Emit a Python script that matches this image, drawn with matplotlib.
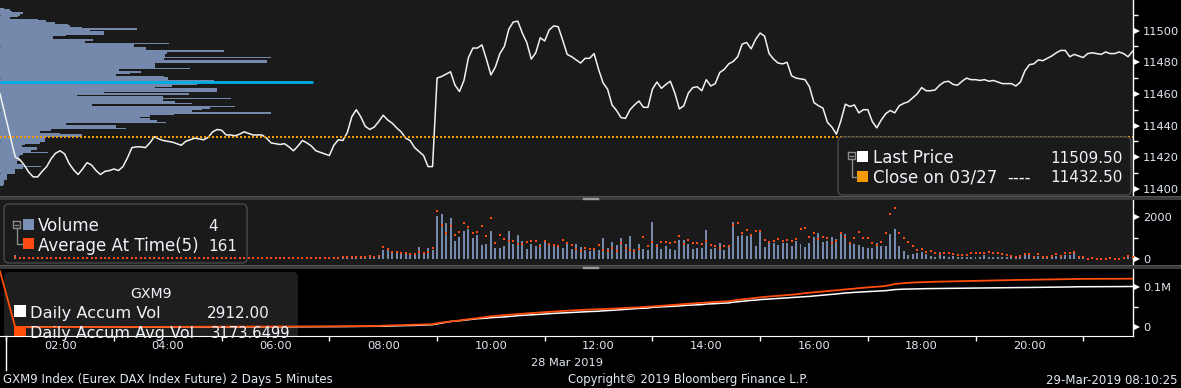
import numpy as np
import pandas as pd
import matplotlib
matplotlib.use("Agg")
import matplotlib.pyplot as plt
from matplotlib.patches import FancyBboxPatch, Rectangle
from matplotlib.lines import Line2D
from matplotlib.transforms import IdentityTransform, offset_copy

W, H = 1181, 388

# ---------------- data ----------------
session_open = '2019-03-28 01:10'      # first 5-minute bar
prev_time = '2019-03-28 00:53'         # line coming in from 27 Mar (left edge)
view_end = '2019-03-28 21:55:30'
prev_price = 11460.0
prev_accum_avg = 140000
close_0327 = 11432.5
poc_price = 11467.5
poc_len = 313

price = [
    11420, 11418.5, 11415, 11410.5, 11407.5, 11407.5, 11411, 11414, 11419, 11422.5,
    11424, 11422, 11416, 11412, 11409, 11412.5, 11416.5, 11415, 11411.5, 11409,
    11411, 11411.5, 11412.5, 11411.5, 11414, 11419.5, 11426, 11426.5, 11426.5, 11426,
    11429, 11433, 11431.5, 11430.5, 11430, 11429.5, 11428.5, 11427.5, 11430, 11431,
    11432, 11431.5, 11431, 11432.5, 11436, 11437.5, 11437, 11434, 11434, 11433.5,
    11434.5, 11436, 11435, 11434, 11434, 11434, 11432, 11429, 11428.5, 11428,
    11428.5, 11426.5, 11424, 11427, 11430.5, 11429, 11427, 11424, 11423, 11422,
    11421, 11427.5, 11431, 11430.5, 11435.5, 11445.5, 11450, 11445.5, 11439.5, 11437.5,
    11439, 11442.5, 11446.5, 11443.5, 11441.5, 11438.5, 11436, 11432, 11430.5, 11426,
    11423.5, 11421, 11414, 11414, 11470, 11471, 11472.5, 11474, 11465.5, 11461.5,
    11468.5, 11483, 11489, 11489, 11491, 11482, 11472, 11477, 11485.5, 11490,
    11501, 11505.5, 11506, 11498.5, 11492.5, 11482, 11486, 11495.5, 11493.5, 11500.5,
    11503, 11502.5, 11494, 11485, 11483.5, 11481.5, 11479.5, 11482.5, 11482.5, 11485.5,
    11475.5, 11467, 11463, 11453, 11449.5, 11445, 11444.5, 11450, 11453, 11455.5,
    11451.5, 11451.5, 11463, 11467.5, 11463.5, 11466, 11468, 11460.5, 11450.5, 11452.5,
    11460.5, 11464, 11464.5, 11462, 11469, 11465, 11466.5, 11473.5, 11475.5, 11479,
    11480.5, 11483.5, 11491.5, 11492.5, 11488.5, 11494.5, 11498.5, 11496.5, 11485.5, 11482,
    11479.5, 11479, 11480, 11471.5, 11470, 11469.5, 11469, 11464.5, 11454.5, 11452.5,
    11451, 11442, 11439, 11434.5, 11443, 11453.5, 11452, 11453, 11448, 11450,
    11450, 11442.5, 11438.5, 11443.5, 11447.5, 11449.5, 11448, 11452.5, 11454, 11455,
    11457.5, 11460, 11464, 11462, 11462, 11462.5, 11465.5, 11467.5, 11468, 11466,
    11465.5, 11468, 11470, 11469, 11469, 11468.5, 11469, 11468, 11468.5, 11467.5,
    11466.5, 11466.5, 11466.5, 11465, 11467.5, 11474.5, 11478.5, 11479, 11481.5, 11481,
    11482.5, 11484, 11486, 11487.5, 11487.5, 11483.5, 11485, 11484, 11483, 11485.5,
    11486, 11485.5, 11485, 11486.5, 11485.5, 11485.5, 11486.5, 11485.5, 11483.5, 11487,
]

volume = [
    190, 40, 25, 30, 15, 20, 15, 25, 10, 20,
    15, 10, 20, 15, 10, 25, 10, 15, 20, 10,
    15, 10, 20, 30, 15, 40, 20, 10, 15, 10,
    20, 15, 10, 15, 20, 10, 15, 10, 20, 15,
    10, 15, 20, 10, 15, 10, 25, 15, 10, 20,
    15, 20, 10, 15, 10, 20, 15, 30, 20, 15,
    25, 20, 35, 20, 30, 25, 40, 30, 80, 60,
    30, 45, 40, 90, 50, 40, 60, 45, 70, 100,
    80, 80, 432, 480, 272, 320, 224, 272, 224, 240,
    560, 272, 512, 432, 2080, 2160, 1744, 1968, 880, 1072,
    1344, 1440, 1024, 1152, 672, 720, 1344, 528, 528, 624,
    1344, 720, 1152, 864, 480, 720, 640, 720, 864, 784,
    704, 592, 528, 784, 480, 720, 592, 432, 384, 432,
    432, 1008, 528, 816, 672, 1008, 720, 1104, 480, 720,
    480, 432, 1776, 720, 480, 624, 480, 432, 912, 912,
    720, 480, 528, 528, 1392, 480, 528, 768, 432, 624,
    1776, 1104, 1152, 1104, 1200, 624, 1344, 576, 816, 784,
    672, 784, 784, 624, 880, 720, 576, 784, 1072, 1264,
    832, 880, 1072, 976, 1264, 1200, 784, 720, 672, 576,
    528, 528, 784, 624, 624, 1200, 1456, 624, 400, 192,
    240, 304, 352, 240, 144, 96, 352, 144, 96, 144,
    96, 96, 96, 112, 112, 112, 176, 112, 112, 112,
    112, 112, 80, 80, 144, 208, 176, 80, 144, 80,
    112, 176, 144, 112, 176, 176, 336, 144, 80, 32,
    80, 32, 32, 32, 64, 64, 32, 32, 112, 80,
]

avg_at_time = [
    80, 50, 40, 35, 35, 30, 30, 30, 35, 30,
    30, 25, 30, 25, 25, 30, 25, 25, 30, 25,
    25, 30, 25, 30, 25, 35, 30, 25, 25, 30,
    25, 25, 30, 25, 25, 30, 25, 25, 30, 25,
    25, 30, 25, 25, 30, 25, 25, 30, 25, 30,
    25, 30, 35, 30, 30, 35, 30, 35, 40, 35,
    40, 45, 40, 45, 50, 45, 55, 50, 60, 65,
    60, 70, 65, 75, 80, 85, 90, 100, 110, 125,
    112, 144, 592, 496, 336, 336, 304, 304, 240, 240,
    352, 304, 352, 528, 2304, 1648, 1264, 1584, 1168, 1296,
    1728, 1552, 1264, 1296, 1600, 1120, 1968, 784, 1168, 976,
    880, 880, 736, 736, 832, 880, 880, 640, 880, 736,
    688, 640, 928, 784, 688, 496, 400, 528, 480, 480,
    688, 432, 400, 528, 400, 784, 528, 432, 400, 496,
    1072, 624, 816, 624, 816, 816, 784, 816, 1120, 720,
    928, 784, 784, 736, 880, 688, 624, 544, 624, 624,
    1648, 1744, 1264, 1408, 1168, 1360, 1360, 928, 816, 880,
    976, 880, 928, 880, 976, 1456, 1504, 1072, 1264, 976,
    1072, 1024, 784, 880, 1264, 1072, 784, 1024, 1312, 1024,
    1024, 784, 688, 832, 1264, 2176, 2464, 1264, 1024, 832,
    640, 448, 496, 352, 400, 304, 256, 304, 304, 256,
    208, 208, 208, 272, 272, 272, 272, 320, 272, 272,
    224, 208, 160, 112, 160, 224, 224, 112, 224, 112,
    112, 160, 224, 160, 272, 272, 320, 112, 112, 16,
    64, 16, 16, 16, 64, 16, 16, 64, 160, 80,
]

# volume-at-price profile, from 11514 down, one row per index point
profile_vol = [
    4, 10, 12, 23, 20, 18, 10, 38, 46, 55,
    68, 70, 82, 137, 90, 104, 104, 66, 53, 53,
    93, 85, 169, 134, 134, 146, 146, 224, 167, 165,
    165, 271, 164, 267, 267, 155, 155, 155, 190, 119,
    141, 130, 116, 164, 168, 168, 214, 200, 197, 172,
    155, 217, 217, 104, 189, 77, 163, 231, 163, 175,
    192, 92, 235, 210, 202, 192, 271, 174, 150, 140,
    150, 157, 166, 66, 116, 116, 126, 51, 40, 60,
    82, 82, 45, 45, 45, 40, 25, 22, 37, 37,
    31, 48, 23, 20, 19, 18, 20, 17, 17, 23,
    41, 23, 15, 15, 15, 7, 7, 7, 7, 4,
    4, 4, 3,
]
profile_levels = np.arange(11514, 11514 - len(profile_vol), -1)

# ---------------- styling ----------------
BG = '#1a1a1a'
TXT = '#eef2f8'
TICK_TXT = '#e2e8f2'
BLUE = '#7589ad'
RED = '#ff4b12'
ORANGE = '#f59a00'
CYAN = '#00aee6'

times = pd.date_range(session_open, periods=len(price), freq='5min')
day0 = times[0].normalize()
hrs = ((times - day0) / pd.Timedelta(hours=1)).to_numpy()
prev_h = (pd.Timestamp(prev_time) - day0) / pd.Timedelta(hours=1)
end_h = (pd.Timestamp(view_end) - day0) / pd.Timedelta(hours=1)

fig = plt.figure(figsize=(W / 100, H / 100), dpi=100, facecolor='black')


def rect(top, bottom):
    return [0, 1 - bottom / H, 1133 / W, (bottom - top) / H]


def right_axis(ax, majors, labels, minors):
    ax.yaxis.tick_right()
    ax.set_yticks(majors)
    ax.set_yticklabels(labels)
    ax.set_yticks(minors, minor=True)
    ax.tick_params(axis='y', which='major', length=0, pad=7.2, labelsize=8.2,
                   labelcolor=TICK_TXT)
    ax.tick_params(axis='y', which='minor', length=3.5, width=1, color='white')
    tr = offset_copy(ax.get_yaxis_transform(), fig=fig, x=4, y=0, units='dots')
    ax.plot([1.0] * len(majors), majors, '>', ms=5, color='white', mew=0,
            transform=tr, clip_on=False)
    for s in ['top', 'left', 'bottom']:
        ax.spines[s].set_visible(False)
    ax.spines['right'].set_color('white')
    ax.spines['right'].set_linewidth(1)


# main price panel (profile underneath, price on top)
ax_prof = fig.add_axes(rect(0, 196))
ax_p = fig.add_axes(rect(0, 196), sharey=ax_prof)

ax_prof.set_facecolor(BG)
ax_prof.barh(profile_levels, profile_vol, height=1.0, color=BLUE, lw=0)
ax_prof.hlines(poc_price, 0, poc_len, color=CYAN, lw=2)
ax_prof.set_xlim(0, 1133)
for s in ax_prof.spines.values():
    s.set_visible(False)
ax_prof.tick_params(left=False, labelleft=False, bottom=False, labelbottom=False)

ax_p.patch.set_visible(False)
ax_p.plot(np.r_[prev_h, hrs], np.r_[prev_price, price], color='#f2f2f2', lw=1.1)
ax_p.axhline(close_0327, color=ORANGE, lw=1.44, ls=(0, (1, 1)))
right_axis(ax_p, range(11400, 11501, 20), [str(v) for v in range(11400, 11501, 20)],
           range(11410, 11520, 20))
ax_p.tick_params(axis='x', bottom=False, labelbottom=False)
ax_p.set_xlim(prev_h, end_h)
ax_p.set_ylim(11395.4, 11519.4)

# volume panel
ax_v = fig.add_axes(rect(200, 265))
ax_v.set_facecolor(BG)
ax_v.bar(hrs, volume, width=0.037, color=BLUE, lw=0, zorder=2)
ax_v.plot(hrs, avg_at_time, 's', ms=1.6, mew=0, color=RED, zorder=3)
right_axis(ax_v, [0, 2000], ['0', '2000'], [1000])
ax_v.tick_params(axis='x', bottom=False, labelbottom=False)
ax_v.set_xlim(prev_h, end_h)
ax_v.set_ylim(-288, 2830)

# accumulated volume panel
ax_a = fig.add_axes(rect(269, 336))
ax_a.set_facecolor('black')
ax_a.plot(hrs, np.cumsum(volume), color='white', lw=1.1, zorder=3)
ax_a.plot(np.r_[prev_h, hrs], np.r_[prev_accum_avg, np.cumsum(avg_at_time)],
          color='#ff4d0a', lw=1.3, zorder=4)
right_axis(ax_a, [0, 100000], ['0', '0.1M'], [50000])
ax_a.spines['bottom'].set_visible(True)
ax_a.spines['bottom'].set_color('white')
ax_a.set_xticks(list(range(2, 21, 2)))
ax_a.set_xticklabels([f'{h:02d}:00' for h in range(2, 21, 2)])
ax_a.set_xticks(list(range(1, 22, 2)), minor=True)
ax_a.tick_params(axis='x', which='major', length=0, pad=3.5, labelsize=8.2,
                 labelcolor=TICK_TXT)
ax_a.tick_params(axis='x', which='minor', length=3.5, width=1, color='white')
ax_a.plot([1.0, 1.0], [0, -0.5], transform=ax_a.get_xaxis_transform(),
          color='white', lw=1, clip_on=False)
ax_a.set_xlim(prev_h, end_h)
ax_a.set_ylim(-21800, 145800)


# ---------------- chrome: separators, legends, footer ----------------
def px_rect(x0, y0, x1, y1, fc, z=10):
    fig.add_artist(Rectangle((x0, H - y1), x1 - x0, y1 - y0, fc=fc, ec='none',
                             transform=IdentityTransform(), zorder=z))


def px_line(xs, ys, color, lw=1, z=12):
    fig.add_artist(Line2D(xs, [H - y for y in ys], color=color, lw=lw,
                          transform=IdentityTransform(), zorder=z))


for top in (196, 265):
    px_rect(0, top, W, top + 4, '#3a3a3a')
    px_rect(0, top, W, top + 1, '#555555')
    px_line([583, 598], [top + 1.5, top + 1.5], '#9a9a9a')
    px_line([583, 598], [top + 3, top + 3], '#9a9a9a')


def box(x0, y0, x1, y1, fc, ec, target=None, z=10):
    p = FancyBboxPatch((x0, H - y1), x1 - x0, y1 - y0,
                       boxstyle='round,pad=0,rounding_size=5', fc=fc, ec=ec, lw=1,
                       transform=IdentityTransform(), zorder=z)
    if target is None:
        fig.add_artist(p)
    else:
        target.add_patch(p)


def ftext(x, y, s, size=12, ha='left', color=TXT):
    fig.text(x / W, 1 - y / H, s, fontsize=size, ha=ha, va='baseline',
             color=color, zorder=20)


def tree_icon(x, y_top, y_row2, x_to):
    px_rect(x, y_top, x + 7, y_top + 7, '#1a1a1a', z=15)
    px_line([x, x + 7, x + 7, x, x], [y_top, y_top, y_top + 7, y_top + 7, y_top],
            '#8a8a8a', z=16)
    px_line([x + 2, x + 5], [y_top + 3.5, y_top + 3.5], '#8a8a8a', z=16)
    px_line([x + 3.5, x + 3.5, x_to], [y_top + 7, y_row2, y_row2], '#8a8a8a', z=16)


# price legend
box(838, 137, 1131, 195, BG, '#4a4a4a')
tree_icon(848, 152, 177, 857)
px_rect(857, 151, 868, 162, 'white', z=15)
px_rect(857, 171, 868, 182, ORANGE, z=15)
ftext(873, 162.7, 'Last Price')
ftext(1123, 162.7, '11509.50', size=11, ha='right')
ftext(873, 182.5, 'Close on 03/27')
ftext(1007, 182.5, '----', size=12)
ftext(1123, 182.5, '11432.50', size=11, ha='right')

# volume legend (frame only, marks show through)
box(4, 204, 247, 263, BG, '#4a4a4a', target=ax_v, z=1)
tree_icon(13, 221, 244, 23)
px_rect(23, 219, 34, 230, '#7a8fb5', z=15)
px_rect(23, 238, 34, 249, RED, z=15)
ftext(38, 231, 'Volume')
ftext(218, 231, '4', size=11, ha='right')
ftext(38, 250.5, 'Average At Time(5)')
ftext(237, 250.5, '161', size=11, ha='right')

# accumulated legend, clipped by the panel's bottom edge
box(4, 272, 298, 345, '#1e1e1e', 'none', target=ax_a, z=1)
idt = IdentityTransform()
ax_a.text(151, H - 297.7, 'GXM9', transform=idt, fontsize=10.2, ha='center',
          va='baseline', color=TXT, zorder=6)
ax_a.add_patch(Rectangle((14, H - 317), 12, 12, fc='white', ec='none',
                         transform=idt, zorder=6))
ax_a.add_patch(Rectangle((14, H - 337.5), 12, 12, fc='#ff4d0a', ec='none',
                         transform=idt, zorder=6))
ax_a.text(30, H - 318.3, 'Daily Accum Vol', transform=idt, fontsize=11.7,
          va='baseline', color=TXT, zorder=6)
ax_a.text(270, H - 318.3, '2912.00', transform=idt, fontsize=11, ha='right',
          va='baseline', color=TXT, zorder=6)
ax_a.text(30, H - 338, 'Daily Accum Avg Vol', transform=idt, fontsize=11.5,
          va='baseline', color=TXT, zorder=6)
ax_a.text(290, H - 338, '3173.6499', transform=idt, fontsize=10.6, ha='right',
          va='baseline', color=TXT, zorder=6)

# footer
ftext(567, 366, '28 Mar 2019', size=8.2, ha='center', color=TICK_TXT)
ftext(3, 383.5, 'GXM9 Index (Eurex DAX Index Future) 2 Days 5 Minutes', size=8.5,
      color=TICK_TXT)
ftext(688, 383.5, 'Copyright\u00a9 2019 Bloomberg Finance L.P.', size=8.4,
      ha='center', color=TICK_TXT)
ftext(1178, 383.5, '29-Mar-2019 08:10:25', size=8.5, ha='right', color=TICK_TXT)

fig.savefig('out.png', dpi=100, facecolor='black')
